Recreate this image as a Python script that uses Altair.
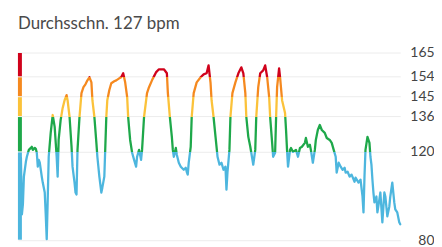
import altair as alt
import pandas as pd

# time in seconds, heart rate in bpm
seconds = [30, 40, 50, 60, 80, 90, 110, 130, 140, 150, 170, 180, 190, 200, 210, 220,
           240, 250, 270, 280, 290, 300, 310, 330, 350, 370, 390, 400, 410, 430, 450,
           470, 490, 500, 520, 540, 550, 570, 580, 590, 600, 620, 640, 660, 680, 700,
           720, 740, 750, 770, 790, 800, 820, 840, 850, 870, 890, 900, 920, 940, 970,
           990, 1020, 1040, 1060, 1080, 1100, 1110, 1130, 1150, 1170, 1190, 1200, 1220,
           1240, 1250, 1270, 1300, 1320, 1350, 1370, 1390, 1420, 1450, 1470, 1500, 1510,
           1530, 1550, 1560, 1570, 1590, 1600, 1620, 1640, 1670, 1690, 1700, 1710, 1720,
           1740, 1750, 1770, 1800, 1840, 1870, 1900, 1920, 1940, 1950, 1970, 1990, 2010,
           2030, 2050, 2070, 2090, 2100, 2110, 2130, 2140, 2160, 2190, 2220, 2250, 2270,
           2290, 2300, 2320, 2340, 2350, 2370, 2390, 2400, 2420, 2440, 2470, 2490, 2510,
           2530, 2540, 2560, 2570, 2590, 2600, 2610, 2630, 2640, 2660, 2690, 2700, 2710,
           2720, 2740, 2750, 2770, 2800, 2820, 2840, 2860, 2890, 2900, 2920, 2940, 2950,
           2970, 2990, 3000, 3020, 3040, 3060, 3090, 3110, 3140, 3160, 3180, 3200, 3210,
           3230, 3250, 3270, 3290, 3300, 3320, 3340, 3360, 3390, 3400, 3430, 3450, 3470,
           3480, 3490, 3500, 3520, 3540, 3550, 3560, 3570, 3580, 3590, 3610, 3620, 3640,
           3650, 3670, 3690, 3700, 3720, 3740, 3750, 3770, 3790, 3800, 3820, 3840, 3850]
bpm = [117.3, 91.7, 96.2, 108.8, 115.5, 117.8, 120.9, 121.8, 122.3, 120.9, 121.8, 121.4,
       119.6, 113.3, 116.4, 115.1, 108.8, 106.1, 101.6, 91.7, 80.5, 98.5, 117.8, 128.6,
       136.7, 131.3, 117.8, 108.8, 125.4, 134.4, 139.8, 143.4, 145.7, 143.4, 135.8,
       122.3, 113.3, 106.1, 101.6, 100.7, 120.9, 135.8, 146.6, 149.3, 150.6, 152.4,
       153.8, 151.5, 143.4, 135.8, 124.1, 117.8, 108.8, 101.6, 103.8, 108.8, 135.8,
       143.4, 147.9, 151.1, 152.0, 152.4, 153.3, 153.8, 155.6, 151.5, 144.8, 135.8,
       125.4, 119.6, 116.4, 113.3, 117.8, 120.9, 116.4, 120.9, 135.8, 146.6, 149.3,
       152.4, 154.2, 156.0, 157.4, 157.4, 157.4, 155.6, 146.6, 135.8, 126.8, 120.9,
       117.8, 121.8, 118.7, 115.1, 113.3, 111.9, 112.8, 111.0, 109.7, 115.1, 122.3,
       135.8, 146.6, 151.5, 153.8, 155.1, 155.6, 159.2, 151.1, 143.4, 135.8, 126.8,
       117.8, 114.2, 115.1, 111.9, 113.3, 102.9, 110.6, 120.9, 135.8, 146.6, 151.5,
       155.6, 158.3, 155.6, 146.6, 135.8, 126.8, 122.3, 119.6, 114.2, 120.9, 135.8,
       149.3, 155.6, 156.9, 159.2, 153.8, 144.8, 135.8, 124.1, 117.8, 119.6, 135.8,
       149.3, 157.8, 153.8, 143.4, 137.6, 129.9, 120.9, 113.3, 120.9, 121.8, 120.0,
       120.9, 117.8, 121.8, 122.3, 124.1, 126.3, 122.3, 123.2, 120.9, 115.1, 120.9,
       125.4, 129.9, 132.2, 129.9, 128.6, 126.3, 125.4, 124.1, 120.9, 117.8, 110.6,
       115.1, 113.3, 111.9, 112.8, 110.6, 111.0, 108.8, 109.7, 106.5, 108.3, 106.1,
       107.4, 99.8, 92.6, 108.8, 120.9, 126.8, 124.1, 117.8, 114.2, 107.4, 101.6, 97.1,
       99.8, 92.6, 98.5, 101.6, 88.1, 101.6, 99.8, 90.8, 95.3, 99.8, 106.1, 97.1, 94.0,
       92.6, 88.1, 87.2]

zone_names = ["Zone 1", "Zone 2", "Zone 3", "Zone 4", "Zone 5"]
zone_low = [80, 120, 136, 145, 154]
zone_high = [120, 136, 145, 154, 165]
zone_colors = ["#4db6de", "#1ea84a", "#fbc23a", "#f5891f", "#d0021b"]
tick_values = [80, 120, 136, 145, 154, 165]
title_text = "Durchsschn. 127 bpm"

hr = pd.DataFrame({"t": seconds, "bpm": bpm})
zones = pd.DataFrame({"zone": zone_names, "lo": zone_low, "hi": zone_high, "color": zone_colors})

# hard-stop gradient over the line's vertical extent
vmax, vmin = max(bpm), min(bpm)
stops = []
for lo, hi, col in zip(zone_low[::-1], zone_high[::-1], zone_colors[::-1]):
    top = min(max((vmax - min(hi, vmax)) / (vmax - vmin), 0), 1)
    bot = min(max((vmax - max(lo, vmin)) / (vmax - vmin), 0), 1)
    if bot <= top:
        continue
    stops.append(alt.GradientStop(offset=top, color=col))
    stops.append(alt.GradientStop(offset=bot, color=col))

y_scale = alt.Scale(domain=[80, 165], nice=False, zero=False)
x_scale = alt.Scale(domain=[0, 3850], nice=False)

y_axis = alt.Axis(
    orient="right",
    values=tick_values,
    title=None,
    domain=False,
    ticks=False,
    tickSize=0,
    grid=True,
    gridColor="#ececec",
    gridWidth=1,
    labelAlign="right",
    labelPadding=34,
    labelFont="Lato",
    labelFontSize=14,
    labelColor="#444444",
    labelBaseline="middle",
    labelOverlap=False,
    labelBound=False,
)

line = alt.Chart(hr).mark_line(
    strokeWidth=2.3,
    strokeJoin="round",
    strokeCap="round",
    color=alt.LinearGradient(gradient="linear", x1=0, y1=0, x2=0, y2=1, stops=stops),
).encode(
    x=alt.X("t:Q", scale=x_scale, axis=None),
    y=alt.Y("bpm:Q", scale=y_scale, axis=y_axis),
)

bar = alt.Chart(zones).mark_rect(yOffset=0.5, y2Offset=-0.5).encode(
    x=alt.value(0),
    x2=alt.value(4),
    y=alt.Y("hi:Q", scale=y_scale, axis=y_axis),
    y2="lo:Q",
    color=alt.Color("color:N", scale=None, legend=None),
)

chart = alt.layer(line, bar).properties(
    width=385,
    height=189,
    padding={"left": 10, "right": 34, "top": 44, "bottom": 6},
    autosize=alt.AutoSizeParams(type="none"),
    title=alt.TitleParams(
        title_text,
        anchor="start",
        font="Lato",
        fontSize=17,
        fontWeight="normal",
        color="#4a4a4a",
        offset=13,
    ),
).configure_view(stroke=None).configure_axis(labelOverlap=False)

chart.save("out.html", embed_options={"renderer": "svg", "actions": False})
